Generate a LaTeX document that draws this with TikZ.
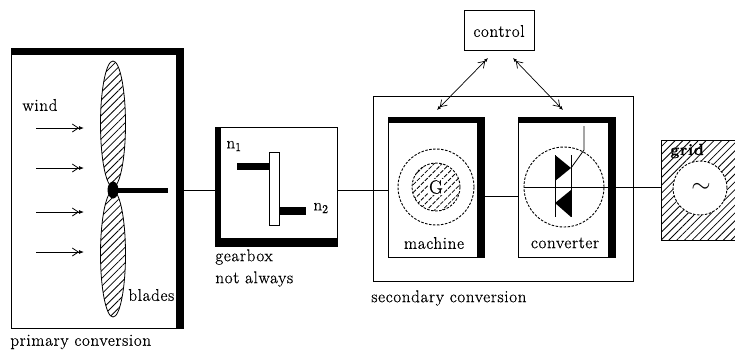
\documentclass[tikz,border=0pt]{standalone}
\usepackage{fontspec}
\newfontfamily\serf{Latin Modern Roman}[LetterSpace=4, FakeBold=0.6]
\usetikzlibrary{patterns.meta,arrows.meta,calc}
\begin{document}
\begin{tikzpicture}[x=1pt,y=-1pt, line width=0.8pt,
  box/.style={draw, rectangle, inner sep=0pt, outer sep=0pt, line width=0.8pt},
  lbl/.style={inner sep=0pt, font=\serf\fontsize{17}{19}\selectfont},
  hatch/.style={pattern={Lines[angle=45,distance=5.5pt,line width=0.8pt]}},
  dashcirc/.style={draw, circle, line width=0.9pt, dash pattern=on 2.5pt off 1.5pt, inner sep=0pt, outer sep=0pt},
  windarrow/.style={-{Straight Barb[length=6pt,width=8pt] Latex[length=5pt,width=4pt]}},
  ctlarrow/.style={{Latex[length=4pt,width=3.5pt] Straight Barb[length=6pt,width=8pt]}-{Straight Barb[length=6pt,width=8pt] Latex[length=4pt,width=3.5pt]}, line width=0.7pt},
  thick/.style={fill=black, draw=none}
]
\useasboundingbox (0,0) rectangle (735,349);

% ---------- primary conversion ----------
\node[box, minimum width=172pt, minimum height=280pt] (primary) at (97,188) {};
\fill[thick] (11,48) rectangle (183,55);
\fill[thick] (176,48) rectangle (183,328);
\node[lbl, anchor=west] (wind) at (22,105) {wind};
\node[lbl, anchor=west] (blades) at (128,295) {blades};
\node[lbl, anchor=west] (primlbl) at (10,342) {primary conversion};
\foreach \yy in {128,168,212,252}
  \draw[windarrow] (36,\yy) -- (84,\yy);
\filldraw[hatch, draw=black, line width=0.8pt] (113,124) ellipse [x radius=12.5, y radius=63];
\filldraw[hatch, draw=black, line width=0.8pt] (113,254) ellipse [x radius=12.5, y radius=63];
\draw[line width=5pt] (113,190) -- (168,190);
\fill (113,190) ellipse [x radius=5.5, y radius=8.5];
\coordinate (hub) at (113,190);

% ---------- gearbox ----------
\node[box, minimum width=122pt, minimum height=119pt] (gearbox) at (276,186.5) {};
\fill[thick] (215,127) rectangle (221,246);
\fill[thick] (215,238) rectangle (337,246);
\fill (237,163) rectangle (269,170);
\fill (279,207) rectangle (306,215);
\draw[fill=white] (269,152) rectangle (279,225);
\node[lbl] (n1) at (234,146) {n\textsubscript{1}};
\node[lbl] (n2) at (321,208) {n\textsubscript{2}};
\node[lbl, anchor=west] (gblbl) at (215,257) {gearbox};
\node[lbl, anchor=west] (nalbl) at (215,279) {not always};

% ---------- secondary conversion ----------
\node[box, minimum width=260pt, minimum height=185pt] (secondary) at (503,188.5) {};
\node[lbl, anchor=west] (seclbl) at (371,298) {secondary conversion};

% machine
\node[box, minimum width=96pt, minimum height=140pt] (machine) at (436,187) {};
\fill[thick] (388,117) rectangle (484,123);
\fill[thick] (477,117) rectangle (484,257);
\node[dashcirc, minimum size=76pt] (mcirc) at (436,187) {};
\node[dashcirc, hatch, minimum size=48pt] (gcirc) at (436,187) {};
\node[lbl, fill=white, inner sep=1pt, font=\serf\fontsize{19}{20}\selectfont] (G) at (436,187) {G};
\node[lbl] (maclbl) at (434,243) {machine};

% converter
\node[box, minimum width=97pt, minimum height=140pt] (converter) at (566.5,187) {};
\fill[thick] (518,117) rectangle (615,123);
\fill[thick] (608,117) rectangle (615,257);
\node[dashcirc, minimum size=80pt] (ccirc) at (564,187) {};
\node[lbl] (convlbl) at (565,243) {converter};
% thyristors
\draw[line width=1pt] (555,155) -- (555,217);
\draw[line width=1pt] (571,155) -- (571,217);
\fill (555,155) -- (555,181) -- (571,168) -- cycle;
\fill (571,190) -- (571,217) -- (555,203) -- cycle;
\draw (571,168) -- (584,150) -- (584,126);

% control
\node[box, minimum width=70pt, minimum height=40pt] (control) at (499,30) {};
\node[lbl] (ctllbl) at (499,31) {control};

% ---------- grid ----------
\node[box, hatch, minimum width=74pt, minimum height=100pt] (grid) at (698,190) {};
\node[dashcirc, fill=white, minimum size=54pt] (gridcirc) at (700,188) {};
\node[inner sep=0pt, font=\fontsize{32}{32}\selectfont] (tilde) at (701,188) {$\sim$};
\node[lbl, anchor=west, font=\serf\bfseries\fontsize{16}{18}\selectfont] (gridlbl) at (670,151) {grid};

% ---------- connectors ----------
\draw (primary.east |- hub) -- (gearbox.west |- hub);
\draw (gearbox.east |- hub) -- (machine.west |- hub);
\draw ($(machine.east)+(0,9)$) -- ($(converter.west)+(0,9)$);
\draw (ccirc.west) -- (grid.west |- ccirc.west);
\draw[ctlarrow] ($(control.south)+(-11,8)$) -- ($(machine.north)+(1,-7)$);
\draw[ctlarrow] ($(control.south)+(14,8)$) -- ($(converter.north)+(-3.5,-7)$);
\end{tikzpicture}
\end{document}
